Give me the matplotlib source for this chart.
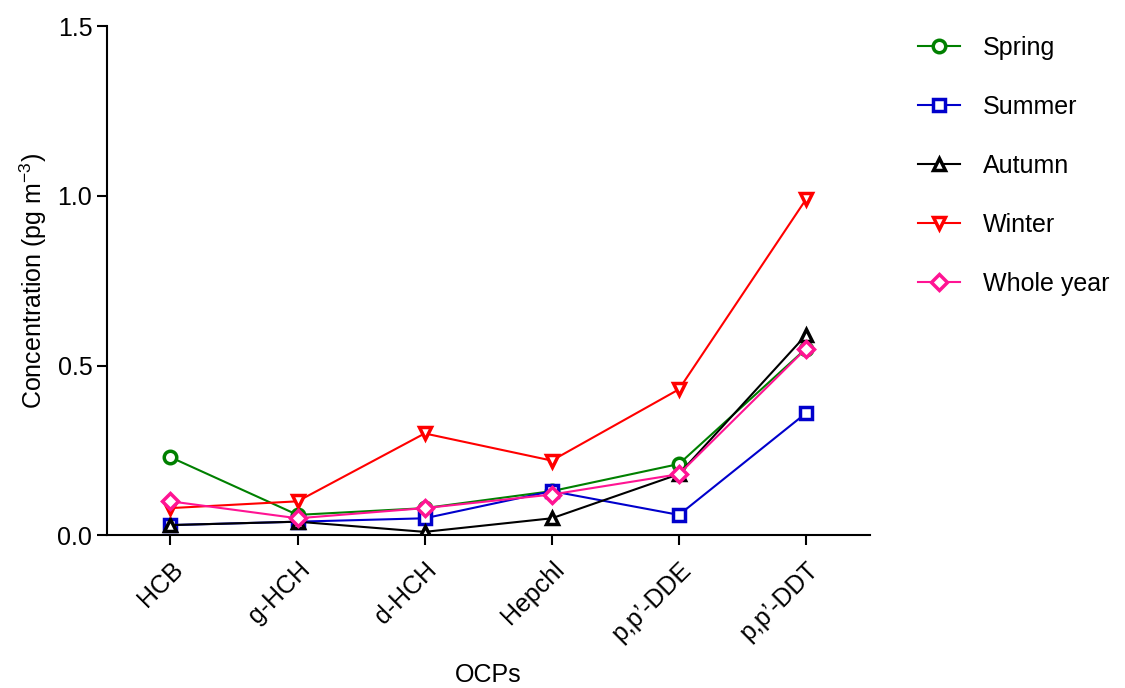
import matplotlib
matplotlib.use("Agg")
import matplotlib.pyplot as plt
import numpy as np

plt.rcParams['font.family'] = ['Liberation Sans', 'DejaVu Sans']
plt.rcParams['mathtext.fontset'] = 'custom'
plt.rcParams['mathtext.rm'] = 'Liberation Sans'

# data
compounds = ["HCB", "g-HCH", "d-HCH", "Hepchl", "p,p\u2019-DDE", "p,p\u2019-DDT"]
spring = [0.23, 0.06, 0.08, 0.13, 0.21, 0.55]
summer = [0.03, 0.04, 0.05, 0.13, 0.06, 0.36]
autumn = [0.03, 0.04, 0.01, 0.05, 0.18, 0.59]
winter = [0.08, 0.10, 0.30, 0.22, 0.43, 0.99]
whole_year = [0.10, 0.05, 0.08, 0.12, 0.18, 0.55]

series = [
    ("Spring", spring, "#008000", "o"),
    ("Summer", summer, "#0000CC", "s"),
    ("Autumn", autumn, "#000000", "^"),
    ("Winter", winter, "#FF0000", "v"),
    ("Whole year", whole_year, "#FF1493", "D"),
]

fig = plt.figure(figsize=(11.25, 6.88), dpi=100)
ax = fig.add_axes([0.095, 0.222, 0.678, 0.740])

x = np.arange(len(compounds))
for name, vals, col, mk in series:
    ms = 8 if mk == "D" else 9
    ax.plot(x, vals, color=col, marker=mk, markersize=ms, markerfacecolor="white",
            markeredgewidth=2.5, linewidth=1.5, label=name)

ax.set_xlim(-0.5, 5.5)
ax.set_ylim(0, 1.5)
ax.set_yticks([0, 0.5, 1.0, 1.5])
ax.set_yticklabels(["0.0", "0.5", "1.0", "1.5"])
ax.set_xticks(x)
ax.set_xticklabels(compounds, rotation=45, ha="right", rotation_mode="anchor")
ax.tick_params(axis="both", labelsize=18, width=1.5, length=7, direction="out")
ax.tick_params(axis="x", pad=9)
for s in ["top", "right"]:
    ax.spines[s].set_visible(False)
for s in ["left", "bottom"]:
    ax.spines[s].set_linewidth(1.5)

ax.set_ylabel("Concentration (pg m$^{-3}$)", fontsize=18, labelpad=6)
ax.set_xlabel("OCPs", fontsize=18, labelpad=12)

ax.legend(loc="upper left", bbox_to_anchor=(1.05, 1.0), frameon=False, fontsize=18,
          labelspacing=1.4, handlelength=1.7, handletextpad=0.9, borderaxespad=0)

fig.savefig("out.png", dpi=100)
